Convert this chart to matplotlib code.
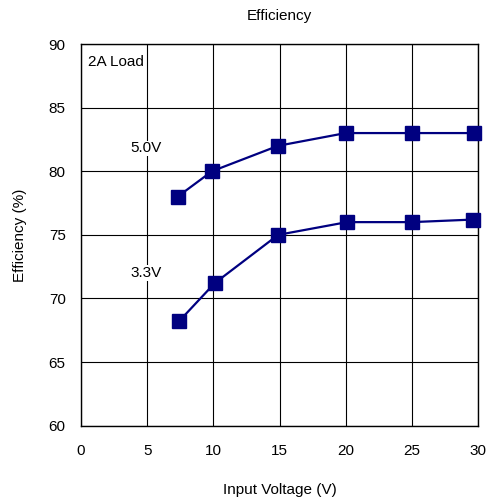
import matplotlib.pyplot as plt

plt.rcParams['font.family'] = ['Liberation Sans', 'DejaVu Sans']

# Input voltage (V) and efficiency (%) for each output
vin_5v0 = [7.3, 9.9, 14.9, 20, 25, 29.7]
eff_5v0 = [78.0, 80.0, 82.0, 83.0, 83.0, 83.0]
vin_3v3 = [7.4, 10.1, 14.9, 20.1, 25, 29.6]
eff_3v3 = [68.2, 71.2, 75.0, 76.0, 76.0, 76.2]

x_ticks = [0, 5, 10, 15, 20, 25, 30]
y_ticks = [60, 65, 70, 75, 80, 85, 90]

fig = plt.figure(figsize=(4.87, 4.99), dpi=100)
ax = fig.add_axes([81 / 487, 73.3 / 499, 397 / 487, 381.7 / 499])

ax.plot(vin_5v0, eff_5v0, color='#000080', lw=1.6, marker='s', ms=9.5, zorder=3, clip_on=False)
ax.plot(vin_3v3, eff_3v3, color='#000080', lw=1.6, marker='s', ms=9.5, zorder=3, clip_on=False)

ax.set_xlim(0, 30)
ax.set_ylim(60, 90)
ax.set_xticks(x_ticks)
ax.set_yticks(y_ticks)
ax.grid(True, color='black', lw=0.8)
ax.set_axisbelow(True)
ax.tick_params(length=0, labelsize=11)
ax.tick_params(axis='x', pad=13)
ax.tick_params(axis='y', pad=11)
for s in ax.spines.values():
    s.set_color('black')
    s.set_linewidth(1.0)

bbox = dict(facecolor='white', edgecolor='none', pad=0.5)
ax.text(0.5, 88.6, '2A Load', fontsize=11, va='center', ha='left', bbox=bbox, zorder=2)
ax.text(3.7, 81.8, '5.0V', fontsize=11, va='center', ha='left', bbox=bbox, zorder=2)
ax.text(3.7, 72.0, '3.3V', fontsize=11, va='center', ha='left', bbox=bbox, zorder=2)

ax.set_title('Efficiency', fontsize=11, pad=17)
ax.set_xlabel('Input Voltage (V)', fontsize=11, labelpad=18)
ax.set_ylabel('Efficiency (%)', fontsize=11, labelpad=16)

fig.savefig('out.png', dpi=100)
